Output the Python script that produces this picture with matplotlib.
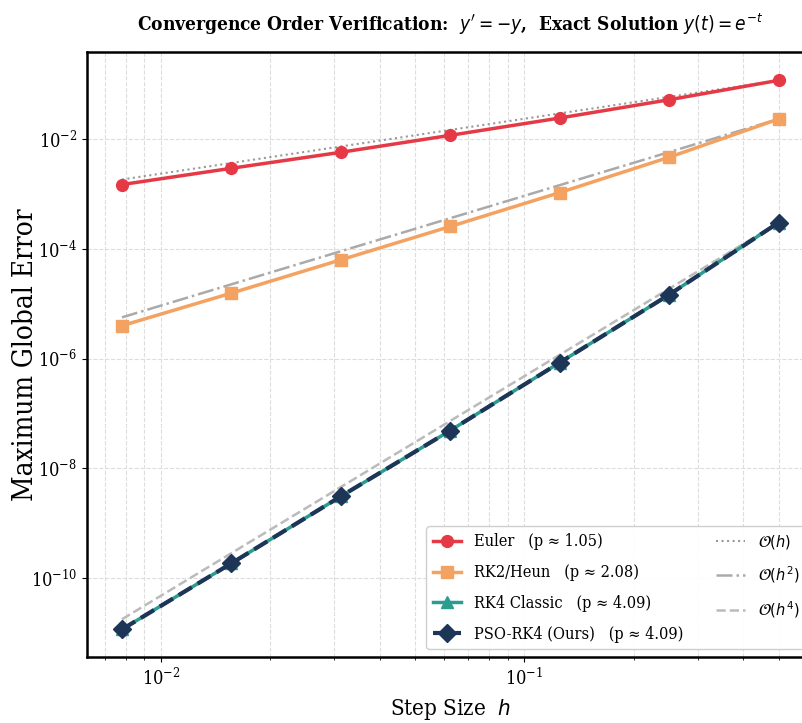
"""
Convergence order check for y' = -y: max global error against step size,
log-log, with O(h^p) guide lines anchored at the coarsest step.
"""

import numpy as np
import matplotlib
matplotlib.use("Agg")
import matplotlib.pyplot as plt
from matplotlib.ticker import NullLocator

# step sizes and errors
STEP_SIZES = [1 / 128, 1 / 64, 1 / 32, 1 / 16, 1 / 8, 1 / 4, 1 / 2]

ERR_EULER = [1.48e-3, 2.93e-3, 5.73e-3, 1.167e-2, 2.41e-2, 5.19e-2, 1.17e-1]
ERR_RK2 = [3.98e-6, 1.56e-5, 6.3e-5, 2.55e-4, 1.056e-3, 4.65e-3, 2.31e-2]
ERR_RK4 = [1.17e-11, 1.87e-10, 3.1e-9, 4.9e-8, 8.46e-7, 1.46e-5, 3.0e-4]
ERR_PSO = [1.17e-11, 1.87e-10, 3.1e-9, 4.9e-8, 8.46e-7, 1.46e-5, 3.0e-4]

METHOD_NAMES = ["Euler", "RK2/Heun", "RK4 Classic", "PSO-RK4 (Ours)"]
FITTED_ORDERS = [1.05, 2.08, 4.09, 4.09]
GUIDE_ORDERS = [1, 2, 4]
GUIDE_LABELS = [r"$\mathcal{O}(h)$", r"$\mathcal{O}(h^2)$", r"$\mathcal{O}(h^4)$"]

COLORS = ["#E63946", "#F4A261", "#2A9D8F", "#1D3557"]

plt.rcParams["font.family"] = ["DejaVu Serif"]
plt.rcParams["font.stretch"] = "condensed"


def main():
    h = np.array(STEP_SIZES)
    errors = [np.array(e) for e in (ERR_EULER, ERR_RK2, ERR_RK4, ERR_PSO)]

    fig = plt.figure(figsize=(8.03, 7.23), dpi=100)
    ax = fig.add_axes([0.108, 0.0906, 0.9054, 0.8371])

    styles = [
        dict(marker="o", ls="-", lw=2.5, ms=8.5),
        dict(marker="s", ls="-", lw=2.5, ms=8),
        dict(marker="^", ls="-", lw=2.5, ms=9),
        dict(marker="D", ls="--", lw=3.0, ms=9),
    ]
    method_handles = []
    for name, p, err, col, st in zip(METHOD_NAMES, FITTED_ORDERS, errors,
                                     COLORS, styles):
        line, = ax.loglog(h, err, color=col, label=f"{name}   (p ≈ {p:.2f})",
                          zorder=3, **st)
        method_handles.append(line)

    # guide lines through the coarsest point of the matching method
    anchors = [errors[0][-1], errors[1][-1], errors[2][-1]]
    guide_styles = [(":", "#999999", 1.5), ("-.", "#AAAAAA", 1.8),
                    ("--", "#BBBBBB", 1.8)]
    guide_handles = []
    for p, anchor, lab, (ls, col, lw) in zip(GUIDE_ORDERS, anchors,
                                             GUIDE_LABELS, guide_styles):
        ref = anchor * (h / h[-1]) ** p
        line, = ax.loglog(h, ref, ls=ls, color=col, lw=lw, label=lab,
                          zorder=2)
        guide_handles.append(line)

    ax.set_xlim(0.00625, 0.625)
    ax.set_ylim(3.6e-12, 0.38)
    ax.set_yticks([1e-10, 1e-8, 1e-6, 1e-4, 1e-2])
    ax.yaxis.set_minor_locator(NullLocator())

    ax.grid(True, which="both", ls="--", color="#DDDDDD", lw=0.8)
    for side in ax.spines.values():
        side.set_linewidth(1.8)
        side.set_color("black")
    ax.tick_params(labelsize=13)

    ax.set_xlabel(r"Step Size  $h$", fontsize=16, labelpad=6)
    ax.set_ylabel("Maximum Global Error", fontsize=20)
    ax.yaxis.set_label_coords(-0.066, 0.5)
    ax.set_title(r"Convergence Order Verification:  $y' = -y$,  "
                 r"Exact Solution $y(t) = e^{-t}$",
                 fontsize=13.7, fontweight="bold", pad=15)

    ax.legend(handles=method_handles + guide_handles, loc="lower right",
              ncol=2, fontsize=11.7, labelspacing=0.85, handlelength=1.75,
              framealpha=0.95, edgecolor="#CCCCCC")

    fig.savefig("out.png", dpi=100)
    plt.close(fig)


if __name__ == "__main__":
    main()
